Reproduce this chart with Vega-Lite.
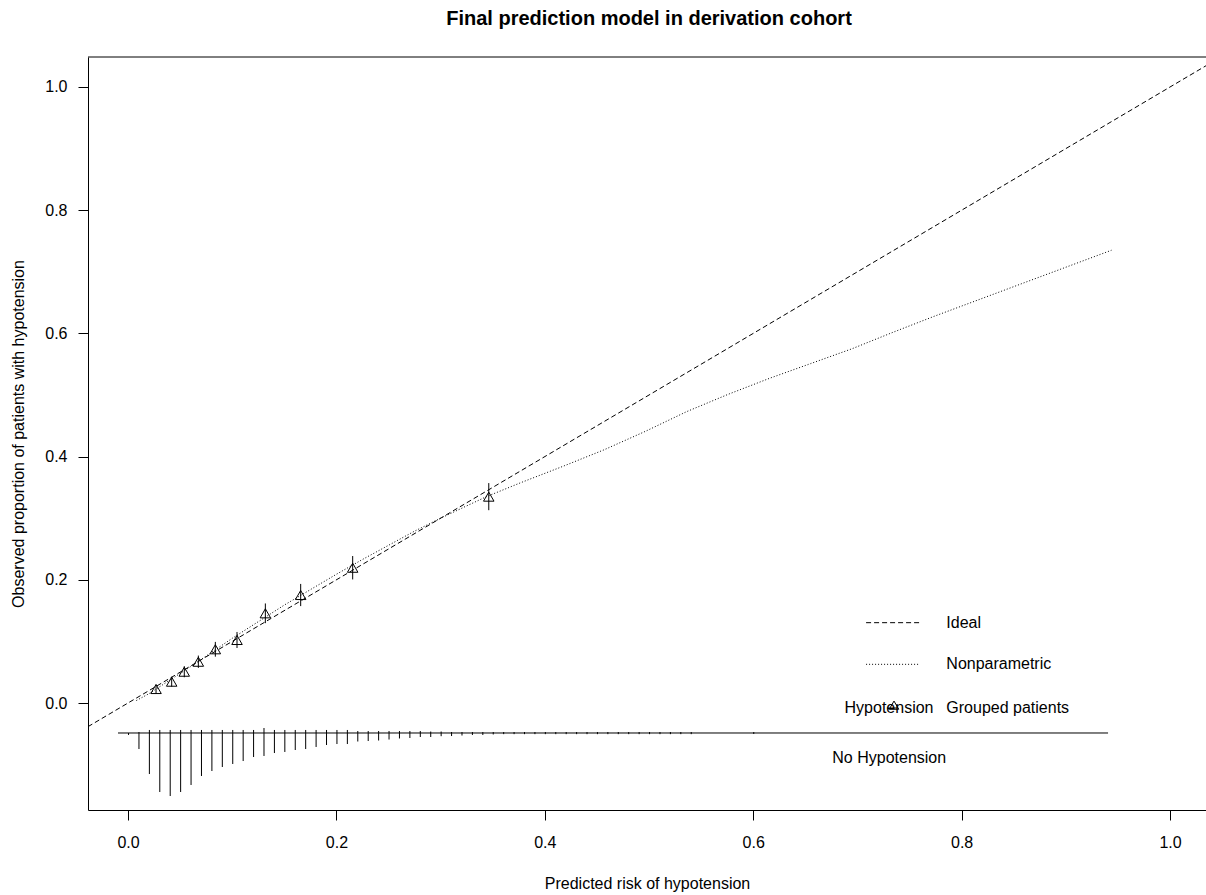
{
  "$schema": "https://vega.github.io/schema/vega-lite/v6.json",
  "autosize": {"type": "none"},
  "padding": {"left": 88, "top": 57, "right": 0, "bottom": 85},
  "width": 1118,
  "height": 753,
  "background": "white",
  "title": {"text": "Final prediction model in derivation cohort", "font": "Liberation Sans", "fontSize": 20, "fontWeight": "bold", "color": "black", "anchor": "middle", "frame": "group", "baseline": "alphabetic", "offset": 12, "dx": 2},
  "config": {
    "view": {"stroke": null},
    "axis": {"domain": true, "domainColor": "black", "domainWidth": 1, "grid": false, "ticks": true, "tickColor": "black", "tickSize": 10, "tickWidth": 1, "labelColor": "black", "labelFont": "Liberation Sans", "labelFontSize": 16, "titleFont": "Liberation Sans", "titleFontSize": 16, "titleFontWeight": "normal", "titleColor": "black"}
  },
  "datasets": {
    "ideal": [{"x": -0.0384, "y": -0.0384}, {"x": 1.0345, "y": 1.0345}],
    "loess": [
      {"x": 0.008, "y": 0.004}, {"x": 0.02, "y": 0.015}, {"x": 0.04, "y": 0.037}, {"x": 0.06, "y": 0.059},
      {"x": 0.08, "y": 0.082}, {"x": 0.10, "y": 0.105}, {"x": 0.125, "y": 0.132}, {"x": 0.15, "y": 0.159},
      {"x": 0.175, "y": 0.184}, {"x": 0.20, "y": 0.209}, {"x": 0.225, "y": 0.233}, {"x": 0.25, "y": 0.256},
      {"x": 0.275, "y": 0.279}, {"x": 0.30, "y": 0.300}, {"x": 0.32, "y": 0.316}, {"x": 0.344, "y": 0.335},
      {"x": 0.3774, "y": 0.358}, {"x": 0.4171, "y": 0.384}, {"x": 0.4568, "y": 0.411}, {"x": 0.4965, "y": 0.441},
      {"x": 0.5361, "y": 0.473}, {"x": 0.5758, "y": 0.501}, {"x": 0.6155, "y": 0.527}, {"x": 0.6551, "y": 0.551},
      {"x": 0.6947, "y": 0.575}, {"x": 0.7344, "y": 0.602}, {"x": 0.774, "y": 0.628}, {"x": 0.8137, "y": 0.653},
      {"x": 0.8533, "y": 0.678}, {"x": 0.893, "y": 0.703}, {"x": 0.9438, "y": 0.735}
    ],
    "groups": [
      {"x": 0.0269, "y": 0.0227, "lo": 0.0157, "hi": 0.0297},
      {"x": 0.0419, "y": 0.0346, "lo": 0.0266, "hi": 0.0426},
      {"x": 0.054, "y": 0.0508, "lo": 0.0418, "hi": 0.0598},
      {"x": 0.0675, "y": 0.067, "lo": 0.057, "hi": 0.077},
      {"x": 0.0838, "y": 0.0872, "lo": 0.0752, "hi": 0.0992},
      {"x": 0.1046, "y": 0.1023, "lo": 0.0893, "hi": 0.1153},
      {"x": 0.1318, "y": 0.1456, "lo": 0.1296, "hi": 0.1616},
      {"x": 0.1657, "y": 0.1753, "lo": 0.1573, "hi": 0.1933},
      {"x": 0.2156, "y": 0.2196, "lo": 0.2006, "hi": 0.2386},
      {"x": 0.3462, "y": 0.335, "lo": 0.313, "hi": 0.357}
    ],
    "spikes": [
      {"x": 0.0005, "lo": -0.0519, "hi": -0.0487},
      {"x": 0.0105, "lo": -0.0747, "hi": -0.0471},
      {"x": 0.0205, "lo": -0.1153, "hi": -0.0438},
      {"x": 0.0305, "lo": -0.1445, "hi": -0.0438},
      {"x": 0.0405, "lo": -0.1510, "hi": -0.0438},
      {"x": 0.0505, "lo": -0.1445, "hi": -0.0438},
      {"x": 0.0605, "lo": -0.1331, "hi": -0.0438},
      {"x": 0.0705, "lo": -0.1185, "hi": -0.0438},
      {"x": 0.0805, "lo": -0.1104, "hi": -0.0438},
      {"x": 0.0905, "lo": -0.1039, "hi": -0.0438},
      {"x": 0.1005, "lo": -0.0990, "hi": -0.0438},
      {"x": 0.1105, "lo": -0.0942, "hi": -0.0438},
      {"x": 0.1205, "lo": -0.0877, "hi": -0.0438},
      {"x": 0.1305, "lo": -0.0860, "hi": -0.0406},
      {"x": 0.1405, "lo": -0.0812, "hi": -0.0438},
      {"x": 0.1505, "lo": -0.0795, "hi": -0.0438},
      {"x": 0.1605, "lo": -0.0763, "hi": -0.0438},
      {"x": 0.1705, "lo": -0.0747, "hi": -0.0438},
      {"x": 0.1805, "lo": -0.0714, "hi": -0.0438},
      {"x": 0.1905, "lo": -0.0682, "hi": -0.0438},
      {"x": 0.2005, "lo": -0.0666, "hi": -0.0438},
      {"x": 0.2105, "lo": -0.0666, "hi": -0.0438},
      {"x": 0.2205, "lo": -0.0625, "hi": -0.0455},
      {"x": 0.2305, "lo": -0.0617, "hi": -0.0455},
      {"x": 0.2405, "lo": -0.0609, "hi": -0.0455},
      {"x": 0.2505, "lo": -0.0593, "hi": -0.0455},
      {"x": 0.2605, "lo": -0.0576, "hi": -0.0455},
      {"x": 0.2705, "lo": -0.0568, "hi": -0.0455},
      {"x": 0.2805, "lo": -0.0552, "hi": -0.0455},
      {"x": 0.2905, "lo": -0.0552, "hi": -0.0463},
      {"x": 0.3005, "lo": -0.0539, "hi": -0.0463},
      {"x": 0.3105, "lo": -0.0536, "hi": -0.0471},
      {"x": 0.3205, "lo": -0.0528, "hi": -0.0471},
      {"x": 0.3305, "lo": -0.0519, "hi": -0.0471},
      {"x": 0.3405, "lo": -0.0519, "hi": -0.0471},
      {"x": 0.3505, "lo": -0.0511, "hi": -0.0471},
      {"x": 0.3605, "lo": -0.0506, "hi": -0.0471},
      {"x": 0.3705, "lo": -0.0506, "hi": -0.0471},
      {"x": 0.3805, "lo": -0.0506, "hi": -0.0471},
      {"x": 0.3905, "lo": -0.0506, "hi": -0.0471},
      {"x": 0.4005, "lo": -0.0506, "hi": -0.0471},
      {"x": 0.4105, "lo": -0.0506, "hi": -0.0471},
      {"x": 0.4205, "lo": -0.0506, "hi": -0.0471},
      {"x": 0.4305, "lo": -0.0506, "hi": -0.0471},
      {"x": 0.4405, "lo": -0.0506, "hi": -0.0471},
      {"x": 0.4505, "lo": -0.0506, "hi": -0.0471},
      {"x": 0.4605, "lo": -0.0506, "hi": -0.0471},
      {"x": 0.4705, "lo": -0.0506, "hi": -0.0471},
      {"x": 0.4805, "lo": -0.0506, "hi": -0.0471},
      {"x": 0.4905, "lo": -0.0506, "hi": -0.0471},
      {"x": 0.5005, "lo": -0.0506, "hi": -0.0471},
      {"x": 0.5105, "lo": -0.0506, "hi": -0.0471},
      {"x": 0.5205, "lo": -0.0506, "hi": -0.0471},
      {"x": 0.5305, "lo": -0.0506, "hi": -0.0471},
      {"x": 0.5405, "lo": -0.0506, "hi": -0.0471},
      {"x": 0.6005, "lo": -0.0503, "hi": -0.0471}
    ]
  },
  "layer": [
    {
      "data": {"name": "ideal"},
      "mark": {"type": "line", "color": "black", "strokeWidth": 1, "strokeDash": [5, 3], "clip": true},
      "encoding": {
        "x": {"field": "x", "type": "quantitative", "title": "Predicted risk of hypotension", "scale": {"domain": [-0.0384, 1.0345], "nice": false, "zero": false},
          "axis": {"values": [0, 0.2, 0.4, 0.6, 0.8, 1.0], "format": ".1f", "labelPadding": 14, "titleY": 73, "titleBaseline": "middle", "labelFlush": false}},
        "y": {"field": "y", "type": "quantitative", "title": "Observed proportion of patients with hypotension", "scale": {"domain": [-0.1737, 1.0487], "nice": false, "zero": false},
          "axis": {"values": [0, 0.2, 0.4, 0.6, 0.8, 1.0], "format": ".1f", "labelPadding": 11, "titleX": -70, "titleBaseline": "middle", "labelFlush": false}}
      }
    },
    {
      "data": {"name": "loess"},
      "mark": {"type": "line", "color": "black", "strokeWidth": 1, "strokeDash": [1, 2]},
      "encoding": {
        "x": {"field": "x", "type": "quantitative", "title": "Predicted risk of hypotension"},
        "y": {"field": "y", "type": "quantitative", "title": "Observed proportion of patients with hypotension"}
      }
    },
    {
      "data": {"name": "groups"},
      "mark": {"type": "rule", "color": "black", "strokeWidth": 1},
      "encoding": {
        "x": {"field": "x", "type": "quantitative", "title": "Predicted risk of hypotension"},
        "y": {"field": "lo", "type": "quantitative", "title": "Observed proportion of patients with hypotension"},
        "y2": {"field": "hi"}
      }
    },
    {
      "data": {"name": "groups"},
      "mark": {"type": "point", "shape": "triangle-up", "filled": false, "stroke": "black", "strokeWidth": 1, "size": 110, "opacity": 1},
      "encoding": {
        "x": {"field": "x", "type": "quantitative", "title": "Predicted risk of hypotension"},
        "y": {"field": "y", "type": "quantitative", "title": "Observed proportion of patients with hypotension"}
      }
    },
    {
      "data": {"name": "spikes"},
      "mark": {"type": "rule", "color": "black", "strokeWidth": 1},
      "encoding": {
        "x": {"field": "x", "type": "quantitative", "title": "Predicted risk of hypotension"},
        "y": {"field": "lo", "type": "quantitative", "title": "Observed proportion of patients with hypotension"},
        "y2": {"field": "hi"}
      }
    },
    {
      "data": {"values": [{}]},
      "mark": {"type": "rule", "color": "black", "strokeWidth": 1},
      "encoding": {
        "x": {"datum": -0.0096, "type": "quantitative"},
        "x2": {"datum": 0.9405},
        "y": {"datum": -0.0487, "type": "quantitative"}
      }
    },
    {
      "data": {"values": [{}]},
      "mark": {"type": "rule", "color": "black", "strokeWidth": 1},
      "encoding": {
        "x": {"datum": -0.0384, "type": "quantitative"},
        "x2": {"datum": 1.0345},
        "y": {"datum": 1.0487, "type": "quantitative"}
      }
    },
    {
      "data": {"values": [{}]},
      "mark": {"type": "rule", "color": "black", "strokeWidth": 1, "strokeDash": [5, 3]},
      "encoding": {
        "x": {"datum": 0.7083, "type": "quantitative"},
        "x2": {"datum": 0.7601},
        "y": {"datum": 0.1304, "type": "quantitative"}
      }
    },
    {
      "data": {"values": [{}]},
      "mark": {"type": "rule", "color": "black", "strokeWidth": 1, "strokeDash": [1, 2]},
      "encoding": {
        "x": {"datum": 0.7083, "type": "quantitative"},
        "x2": {"datum": 0.7601},
        "y": {"datum": 0.0628, "type": "quantitative"}
      }
    },
    {
      "data": {"values": [{}]},
      "mark": {"type": "rule", "color": "black", "strokeWidth": 1},
      "encoding": {
        "x": {"datum": 0.7284, "type": "quantitative"},
        "x2": {"datum": 0.739},
        "y": {"datum": -0.0081, "type": "quantitative"}
      }
    },
    {
      "data": {"values": [{}]},
      "mark": {"type": "point", "shape": "triangle-up", "filled": false, "stroke": "black", "strokeWidth": 1, "size": 90, "opacity": 1},
      "encoding": {
        "x": {"datum": 0.7351, "type": "quantitative"},
        "y": {"datum": -0.0035, "type": "quantitative"}
      }
    },
    {
      "data": {"values": [{"label": "Ideal"}]},
      "mark": {"type": "text", "font": "Liberation Sans", "fontSize": 16, "color": "black", "align": "left", "baseline": "middle"},
      "encoding": {"x": {"datum": 0.7853, "type": "quantitative"}, "y": {"datum": 0.1304, "type": "quantitative"}, "text": {"field": "label"}}
    },
    {
      "data": {"values": [{"label": "Nonparametric"}]},
      "mark": {"type": "text", "font": "Liberation Sans", "fontSize": 16, "color": "black", "align": "left", "baseline": "middle"},
      "encoding": {"x": {"datum": 0.7853, "type": "quantitative"}, "y": {"datum": 0.0628, "type": "quantitative"}, "text": {"field": "label"}}
    },
    {
      "data": {"values": [{"label": "Grouped patients"}]},
      "mark": {"type": "text", "font": "Liberation Sans", "fontSize": 16, "color": "black", "align": "left", "baseline": "middle"},
      "encoding": {"x": {"datum": 0.7853, "type": "quantitative"}, "y": {"datum": -0.0086, "type": "quantitative"}, "text": {"field": "label"}}
    },
    {
      "data": {"values": [{"label": "Hypotension"}]},
      "mark": {"type": "text", "font": "Liberation Sans", "fontSize": 16, "color": "black", "align": "center", "baseline": "middle"},
      "encoding": {"x": {"datum": 0.7303, "type": "quantitative"}, "y": {"datum": -0.0081, "type": "quantitative"}, "text": {"field": "label"}}
    },
    {
      "data": {"values": [{"label": "No Hypotension"}]},
      "mark": {"type": "text", "font": "Liberation Sans", "fontSize": 16, "color": "black", "align": "center", "baseline": "middle"},
      "encoding": {"x": {"datum": 0.7305, "type": "quantitative"}, "y": {"datum": -0.0898, "type": "quantitative"}, "text": {"field": "label"}}
    }
  ]
}
